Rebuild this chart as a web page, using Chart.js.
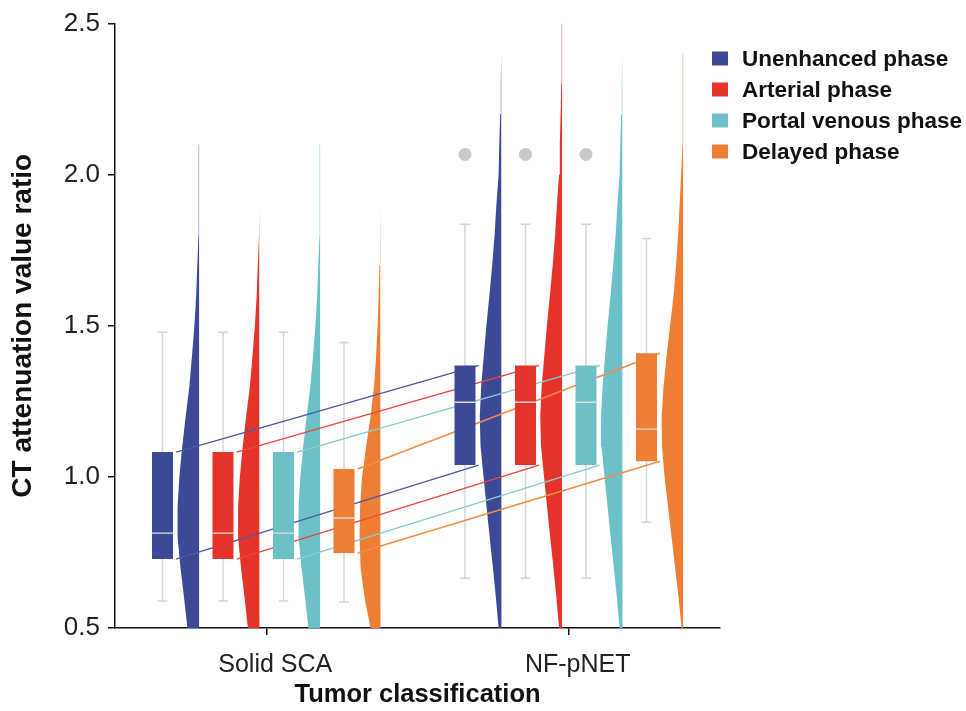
<!DOCTYPE html>
<html>
<head>
<meta charset="utf-8">
<script src="https://cdn.jsdelivr.net/npm/chart.js@4.4.0/dist/chart.umd.min.js"></script>
<style>
  html, body { margin: 0; padding: 0; background: #fff; }
</style>
</head>
<body>
<canvas id="chart" width="966" height="711"></canvas>
<script>
const categories = ['Solid SCA', 'NF-pNET'];
const phases = ['Unenhanced phase', 'Arterial phase', 'Portal venous phase', 'Delayed phase'];
const phaseColors = ['#3d4896', '#e5332b', '#6cc1c8', '#ef7e35'];
const linkColors = ['#4d58a8', '#e9473e', '#86cdd2', '#f18c48'];

// box plot stats, one row per phase: [Solid SCA, NF-pNET]
const whiskerLow  = [[0.589, 0.665], [0.589, 0.665], [0.589, 0.665], [0.586, 0.850]];
const q1          = [[0.728, 1.039], [0.728, 1.039], [0.728, 1.039], [0.748, 1.052]];
const median      = [[0.814, 1.247], [0.814, 1.247], [0.814, 1.247], [0.864, 1.158]];
const q3          = [[1.082, 1.369], [1.082, 1.369], [1.082, 1.369], [1.026, 1.409]];
const whiskerHigh = [[1.479, 1.836], [1.479, 1.836], [1.479, 1.836], [1.445, 1.789]];
const outliers    = [[[], [2.067]], [[], [2.067]], [[], [2.067]], [[], []]];

// half-violin density (estimated), sampled at violinY; null = no density
const violinY = [0.5, 0.6, 0.7, 0.8, 0.9, 1.0, 1.1, 1.2, 1.3, 1.4, 1.5, 1.6, 1.7, 1.8, 1.9, 2.0, 2.1, 2.2, 2.3, 2.4, 2.5];
const solidDensity = [
  [11.7, 15, 18.6, 21.5, 21.5, 19.7, 16.9, 13.4, 9.7, 7.1, 4.7, 2.9, 1.8, 0.6, 0.4, 0.4, 0.4, null, null, null, null],
  [11.7, 15, 18.6, 21.5, 21.5, 19.7, 16.9, 13.4, 9.7, 7.1, 4.7, 2.9, 1.8, 0.6, 0.4, 0.4, 0.4, null, null, null, null],
  [11.7, 15, 18.6, 21.5, 21.5, 19.7, 16.9, 13.4, 9.7, 7.1, 4.7, 2.9, 1.8, 0.6, 0.4, 0.4, 0.4, null, null, null, null],
  [10, 16, 20, 21, 20.5, 18.5, 14.5, 10, 6.5, 4.5, 3, 2, 1.2, 0.6, 0.4, 0.4, null, null, null, null, null]
];
const nfDensity = [
  [3, 5.7, 8.7, 11.9, 15, 18, 21, 21.8, 20.4, 17.8, 15.2, 12.2, 9.4, 7, 5.2, 3, 2.3, 1.5, 0.8, 0.4, 0.4],
  [3, 5.7, 8.7, 11.9, 15, 18, 21, 21.8, 20.4, 17.8, 15.2, 12.2, 9.4, 7, 5.2, 3, 2.3, 1.5, 0.8, 0.4, 0.4],
  [3, 5.7, 8.7, 11.9, 15, 18, 21, 21.5, 20, 17.5, 15, 12, 9.4, 7, 5.2, 3, 2.3, 1.5, 0.8, 0.4, 0.4],
  [1.5, 4.5, 8, 11.5, 15, 18.5, 21, 21.5, 19.5, 16.5, 13, 9.5, 7, 5, 3.5, 2, 0.6, 0.4, 0.4, 0.4, null]
];

// layout in x-axis units (one category = 1 unit)
const SERIES_STEP = 0.2;
const BOX_OFF = -0.343;
const VIOLIN_OFF = -0.222;
const LINK_OFF = 0.045;
const CAP_HALF = 0.016;
const MEDIAN_HALF = 0.035;
const DENSITY_SCALE = 1 / 302;

const FONT = '"Liberation Sans", Arial, sans-serif';
Chart.defaults.font.family = FONT;

function boxX(cat, p) { return cat + 0.5 + BOX_OFF + p * SERIES_STEP; }
const gap = { x: null, y: null };

const datasets = [];

phases.forEach((name, p) => {
  // boxes
  datasets.push({
    type: 'bar',
    label: name,
    data: categories.map((c, ci) => ({ x: boxX(ci, p), y: [q1[p][ci], q3[p][ci]] })),
    backgroundColor: phaseColors[p],
    borderWidth: 0,
    grouped: false,
    maxBarThickness: 21,
    order: 1
  });

  // median marks
  const med = [];
  categories.forEach((c, ci) => {
    med.push({ x: boxX(ci, p) - MEDIAN_HALF, y: median[p][ci] }, { x: boxX(ci, p) + MEDIAN_HALF, y: median[p][ci] }, gap);
  });
  datasets.push({ data: med, showLine: true, borderColor: '#dedbd6', borderWidth: 1.3, pointRadius: 0, order: 0 });

  // whiskers with caps
  const wh = [];
  categories.forEach((c, ci) => {
    const x = boxX(ci, p), hi = whiskerHigh[p][ci], lo = whiskerLow[p][ci];
    wh.push({ x: x - CAP_HALF, y: hi }, { x: x + CAP_HALF, y: hi }, gap,
            { x: x, y: hi }, { x: x, y: lo }, gap,
            { x: x - CAP_HALF, y: lo }, { x: x + CAP_HALF, y: lo }, gap);
  });
  datasets.push({ data: wh, showLine: true, borderColor: '#d6d6d6', borderWidth: 1.5, pointRadius: 0, order: 4 });

  // lines joining the quartiles of the two groups
  const xa = boxX(0, p) + LINK_OFF, xb = boxX(1, p) + LINK_OFF;
  datasets.push({
    data: [{ x: xa, y: q3[p][0] }, { x: xb, y: q3[p][1] }, gap, { x: xa, y: q1[p][0] }, { x: xb, y: q1[p][1] }],
    showLine: true, borderColor: linkColors[p], borderWidth: 1.5, pointRadius: 0, order: 2
  });

  // half violins
  [solidDensity, nfDensity].forEach((dens, ci) => {
    const edge = ci + 0.5 + VIOLIN_OFF + p * SERIES_STEP;
    const pts = [];
    let top = violinY[0];
    violinY.forEach((y, k) => {
      const w = dens[p][k];
      if (w === null) return;
      pts.push({ x: edge - w * DENSITY_SCALE, y: y });
      top = y;
    });
    pts.push({ x: edge, y: top }, { x: edge, y: violinY[0] });
    datasets.push({
      data: pts, showLine: true, fill: 'shape', backgroundColor: phaseColors[p],
      borderWidth: 0, pointRadius: 0, order: 3
    });
  });

  // outliers
  const out = [];
  categories.forEach((c, ci) => outliers[p][ci].forEach(v => out.push({ x: boxX(ci, p), y: v })));
  datasets.push({ data: out, pointRadius: 6.5, backgroundColor: '#c9c9c9', borderWidth: 0, order: 1 });
});

const phaseLegend = {
  id: 'phaseLegend',
  afterDraw(chart) {
    const ctx = chart.ctx;
    const left = chart.chartArea.right - 8;
    ctx.save();
    ctx.font = 'bold 22.5px ' + FONT;
    ctx.textBaseline = 'middle';
    phases.forEach((name, i) => {
      const y = 58.5 + i * 31;
      ctx.fillStyle = phaseColors[i];
      ctx.fillRect(left, y - 7, 16, 14);
      ctx.fillStyle = '#111';
      ctx.fillText(name, left + 30, y + 1);
    });
    ctx.restore();
  }
};

const axisGrid = { drawOnChartArea: false, drawTicks: true, tickLength: 7, color: '#111', lineWidth: 1.5, offset: false };
const axisBorder = { display: true, color: '#111', width: 1.5 };

new Chart(document.getElementById('chart'), {
  type: 'scatter',
  data: { datasets: datasets },
  options: {
    responsive: false,
    animation: false,
    layout: { padding: { top: 23, right: 246, left: 0, bottom: 0 } },
    plugins: { legend: { display: false }, tooltip: { enabled: false } },
    scales: {
      x: {
        type: 'linear', min: 0, max: 2, offset: false,
        grid: axisGrid, border: axisBorder,
        afterBuildTicks: s => { s.ticks = categories.map((c, i) => ({ value: i + 0.5 })); },
        afterFit: s => { s.height = 83; },
        ticks: { callback: (v, i) => categories[i], autoSkip: false, maxRotation: 0, padding: 15, labelOffset: 9, color: '#222', font: { size: 25 } },
        title: { display: true, text: 'Tumor classification', color: '#111', font: { size: 25.5, weight: 'bold' }, padding: { top: 0, bottom: 1 } }
      },
      y: {
        type: 'linear', min: 0.5, max: 2.5, beginAtZero: false,
        grid: axisGrid, border: axisBorder,
        afterFit: s => { s.width = 115; },
        ticks: { stepSize: 0.5, callback: v => v.toFixed(1), padding: 8, color: '#222', font: { size: 26 } },
        title: { display: true, text: 'CT attenuation value ratio', color: '#111', font: { size: 28, weight: 'bold' }, padding: { top: 6, bottom: 0 } }
      }
    }
  },
  plugins: [phaseLegend]
});
</script>
</body>
</html>
